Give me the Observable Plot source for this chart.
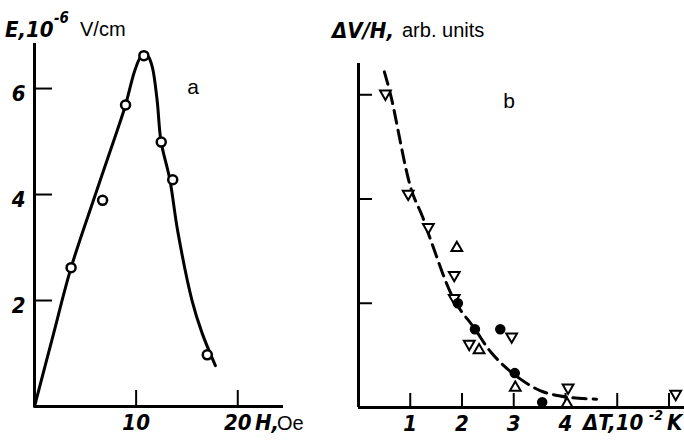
<!DOCTYPE html>
<html><head><meta charset="utf-8">
<script src="https://cdn.jsdelivr.net/npm/d3@7"></script>
<script src="https://cdn.jsdelivr.net/npm/@observablehq/plot@0.6"></script>
<style>
body{margin:0;background:#fff}
#wrap{position:relative;width:684px;height:443px;overflow:hidden;background:#fff}
#wrap > svg{position:absolute;top:0}
g[aria-label="x-axis tick label"], g[aria-label="y-axis tick label"]{
  font-family:"DejaVu Sans Condensed","DejaVu Sans",sans-serif;font-weight:bold;font-style:italic;font-stretch:condensed;font-size:22px;fill:#000}
.bi{font-family:"DejaVu Sans Condensed","DejaVu Sans",sans-serif;font-weight:bold;font-style:italic;font-stretch:condensed}
.rg{font-family:"Liberation Sans",Arial,sans-serif}
</style></head><body><div id="wrap"></div>
<script>
// ---- Panel a data ----
const aPointH = [3.6, 6.7, 8.96, 10.76, 12.47, 13.6, 17.0];
const aPointE = [2.62, 3.89, 5.69, 6.62, 4.99, 4.28, 0.975];
const aCurveH = [0, 1.8, 3.6, 5.9, 8.14, 8.96, 9.77, 10.3, 10.76, 11.2, 11.6, 12.07, 12.45, 13.3, 14.1, 15.5, 16.5, 17.8];
const aCurveE = [0, 1.32, 2.62, 3.95, 5.21, 5.69, 6.28, 6.55, 6.67, 6.6, 6.4, 5.77, 5.0, 4.3, 3.3, 2.0, 1.38, 0.77];
const aYTicks = [2, 4, 6];
const aXTicks = [10, 20];
const aTag = {h: 15.6, e: 6.02, text: "a"};

// ---- Panel b data ----
const bDownT = [0.52, 0.96, 1.35, 1.85, 1.85, 2.14, 2.96, 4.05, 6.13];
const bDownV = [3.01, 2.05, 1.73, 1.27, 1.05, 0.61, 0.68, 0.19, 0.13];
const bUpT = [1.9, 2.33, 3.03, 4.03];
const bUpV = [1.53, 0.55, 0.19, 0.035];
const bDotT = [1.92, 2.25, 2.74, 3.02, 3.55];
const bDotV = [1.0, 0.75, 0.75, 0.33, 0.05];
const bCurveT = [0.5, 0.63, 1.02, 1.23, 1.4, 1.85, 2.24, 2.56, 3.0, 3.52, 4.03, 4.6];
const bCurveV = [3.22, 2.98, 2.09, 1.84, 1.6, 1.03, 0.76, 0.53, 0.32, 0.16, 0.1, 0.08];
const bXTicks = [1, 2, 3, 4, 5, 6];
const bXLabels = [1, 2, 3, 4];
const bYTicks = [1, 2, 3];
const bTag = {t: 2.91, v: 2.94, text: "b"};

const zip = (xs, ys) => xs.map((x, i) => ({x, y: ys[i]}));
const fmt = d => String(d);
const wrap = document.getElementById("wrap");

const plotA = Plot.plot({
  width: 340, height: 443,
  marginLeft: 34, marginRight: 57, marginTop: 43, marginBottom: 37,
  x: {domain: [0, 24.5]},
  y: {domain: [0, 6.85]},
  marks: [
    Plot.ruleX([0], {stroke: "#000", strokeWidth: 3}),
    Plot.ruleY([0], {stroke: "#000", strokeWidth: 3}),
    Plot.axisY(aYTicks, {tickSize: 18, dx: 18, strokeWidth: 2, tickFormat: () => ""}),
    Plot.axisY(aYTicks, {tickSize: 0, tickPadding: 9, dy: 5, tickFormat: fmt}),
    Plot.axisX(aXTicks, {tickSize: 16, dy: -16, strokeWidth: 2, tickFormat: () => ""}),
    Plot.axisX(aXTicks, {tickSize: 0, tickPadding: 8, tickFormat: fmt}),
    Plot.line(zip(aCurveH, aCurveE), {x: "x", y: "y", curve: "catmull-rom", stroke: "#000", strokeWidth: 3}),
    Plot.dot(zip(aPointH, aPointE), {x: "x", y: "y", r: 4.5, fill: "#fff", stroke: "#000", strokeWidth: 2.5}),
    Plot.text([aTag], {x: "h", y: "e", text: "text", fontSize: 21, fontFamily: "Liberation Sans, Arial, sans-serif"})
  ]
});
plotA.style.left = "0px";
wrap.appendChild(plotA);

const plotB = Plot.plot({
  width: 344, height: 443,
  marginLeft: 18, marginRight: 0, marginTop: 63, marginBottom: 36,
  x: {domain: [0, 6.3]},
  y: {domain: [0, 3.3]},
  marks: [
    Plot.ruleX([0], {stroke: "#000", strokeWidth: 3}),
    Plot.ruleY([0], {stroke: "#000", strokeWidth: 3}),
    Plot.axisY(bYTicks, {tickSize: 14, dx: 14, strokeWidth: 2, tickFormat: () => ""}),
    Plot.axisX(bXTicks, {tickSize: 14, dy: -14, strokeWidth: 2, tickFormat: () => ""}),
    Plot.axisX(bXLabels, {tickSize: 0, tickPadding: 8, tickFormat: fmt}),
    Plot.line(zip(bCurveT, bCurveV), {x: "x", y: "y", curve: "catmull-rom", stroke: "#000", strokeWidth: 3, strokeDasharray: "13,7"}),
    Plot.dot(zip(bDownT, bDownV), {x: "x", y: "y", symbol: "triangle", rotate: 180, r: 4, fill: "#fff", stroke: "#000", strokeWidth: 2}),
    Plot.dot(zip(bUpT, bUpV), {x: "x", y: "y", symbol: "triangle", r: 4, fill: "#fff", stroke: "#000", strokeWidth: 2}),
    Plot.dot(zip(bDotT, bDotV), {x: "x", y: "y", r: 4.5, fill: "#000", stroke: "#000"}),
    Plot.text([bTag], {x: "t", y: "v", text: "text", fontSize: 21, fontFamily: "Liberation Sans, Arial, sans-serif"})
  ]
});
plotB.style.left = "340px";
wrap.appendChild(plotB);

// ---- text labels overlay ----
const labels = [
  {t: "E,10", x: 5, y: 37, cls: "bi", fs: 22},
  {t: "-6", x: 54, y: 23, cls: "bi", fs: 15},
  {t: "V/cm", x: 80, y: 36, cls: "rg", fs: 20},
  {t: "ΔV/H,", x: 332, y: 38, cls: "bi", fs: 22},
  {t: "arb. units", x: 402, y: 37, cls: "rg", fs: 20},
  {t: "H,", x: 255, y: 430, cls: "bi", fs: 22},
  {t: "Oe", x: 277, y: 430, cls: "rg", fs: 20},
  {t: "ΔT,10", x: 583, y: 430, cls: "bi", fs: 22},
  {t: "-2", x: 649, y: 420, cls: "bi", fs: 14},
  {t: "K", x: 667, y: 430, cls: "bi", fs: 22}
];
const ov = d3.create("svg").attr("width", 684).attr("height", 443).style("left", "0px").style("pointer-events", "none");
ov.selectAll("text").data(labels).join("text")
  .attr("class", d => d.cls).attr("x", d => d.x).attr("y", d => d.y)
  .attr("font-size", d => d.fs).attr("fill", "#000").text(d => d.t);
wrap.appendChild(ov.node());
</script></body></html>
